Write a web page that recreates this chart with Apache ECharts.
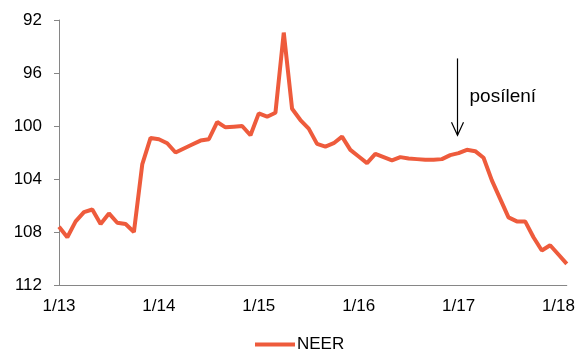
<!DOCTYPE html>
<html>
<head>
<meta charset="utf-8">
<script src="https://cdn.jsdelivr.net/npm/echarts@6/dist/echarts.min.js"></script>
<style>
html,body{margin:0;padding:0;background:#fff;}
#chart{width:578px;height:356px;}
</style>
</head>
<body>
<div id="chart"></div>
<script>
// Months Jan 2013 – Feb 2018
const years = ['13','14','15','16','17','18'];
const categories = [];
years.forEach(function (y) {
  for (let m = 1; m <= 12; m++) {
    if (y === '18' && m > 2) break;
    categories.push(m + '/' + y);
  }
});

const seriesName = 'NEER';
const neer = [
  107.6, 108.4, 107.2, 106.5, 106.3, 107.4, 106.6, 107.3, 107.4, 108.0, 102.9, 100.9,
  101.0, 101.3, 102.0, 101.7, 101.4, 101.1, 101.0, 99.7, 100.1, 100.05, 100.0, 100.7,
  99.05, 99.3, 99.0, 92.95, 98.7, 99.55, 100.2, 101.35, 101.55, 101.3, 100.8, 101.8,
  102.3, 102.8, 102.1, 102.35, 102.6, 102.35, 102.45, 102.5, 102.55, 102.55, 102.5, 102.2,
  102.05, 101.8, 101.9, 102.4, 104.1, 105.5, 106.9, 107.2, 107.2, 108.4, 109.4, 109.0,
  109.7, 110.4
];

const yMin = 92, yMax = 112, yStep = 4;

// annotation: arrow pointing at January 2017
const annotCategory = '1/17';
const annotArrowFrom = 94.9;
const annotArrowTo = 100.7;
const annotText = 'posílení';
const annotTextValue = 97.8;

const chart = echarts.init(document.getElementById('chart'), null, {renderer: 'canvas'});
const font = 'Liberation Sans, Arial, sans-serif';
const lineColor = '#EE5B3C';

chart.setOption({
  animation: false,
  backgroundColor: '#ffffff',
  grid: {left: 59, right: 11, top: 20, bottom: 71, containLabel: false},
  legend: {
    data: [seriesName],
    left: 250, top: 331,
    icon: 'rect', itemWidth: 40, itemHeight: 4, itemGap: 10,
    textStyle: {fontFamily: font, fontSize: 17, color: '#000', padding: [0, 0, 0, -3]}
  },
  xAxis: {
    type: 'category',
    data: categories,
    boundaryGap: false,
    axisLine: {lineStyle: {color: '#868686', width: 1}},
    axisTick: {show: false},
    axisLabel: {interval: 11, margin: 13, fontFamily: font, fontSize: 17, color: '#000'},
    splitLine: {show: false}
  },
  yAxis: {
    type: 'value',
    inverse: true,
    min: yMin, max: yMax, interval: yStep,
    axisLine: {show: true, lineStyle: {color: '#868686', width: 1}},
    axisTick: {show: true, length: 5, lineStyle: {color: '#868686'}},
    axisLabel: {margin: 17, fontFamily: font, fontSize: 17, color: '#000'},
    splitLine: {show: false}
  },
  series: [{
    name: seriesName,
    type: 'line',
    data: neer,
    symbol: 'none',
    lineStyle: {color: lineColor, width: 4},
    itemStyle: {color: lineColor}
  }]
});

function drawAnnotation() {
  const p1 = chart.convertToPixel({gridIndex: 0}, [annotCategory, annotArrowFrom]);
  const p2 = chart.convertToPixel({gridIndex: 0}, [annotCategory, annotArrowTo]);
  const pt = chart.convertToPixel({gridIndex: 0}, [annotCategory, annotTextValue]);
  const x = Math.round(p1[0]) - 1.5;
  chart.setOption({
    graphic: [
      {type: 'line', shape: {x1: x, y1: p1[1], x2: x, y2: p2[1]}, style: {stroke: '#000', lineWidth: 1.2}},
      {type: 'polyline', shape: {points: [[x - 6, p2[1] - 13], [x, p2[1]], [x + 6, p2[1] - 13]]}, style: {stroke: '#000', lineWidth: 1.2, fill: null}},
      {type: 'text', x: x + 12, y: pt[1], style: {text: annotText, fontFamily: font, fontSize: 19, fill: '#000', verticalAlign: 'middle', align: 'left'}}
    ]
  });
}
drawAnnotation();
</script>
</body>
</html>
